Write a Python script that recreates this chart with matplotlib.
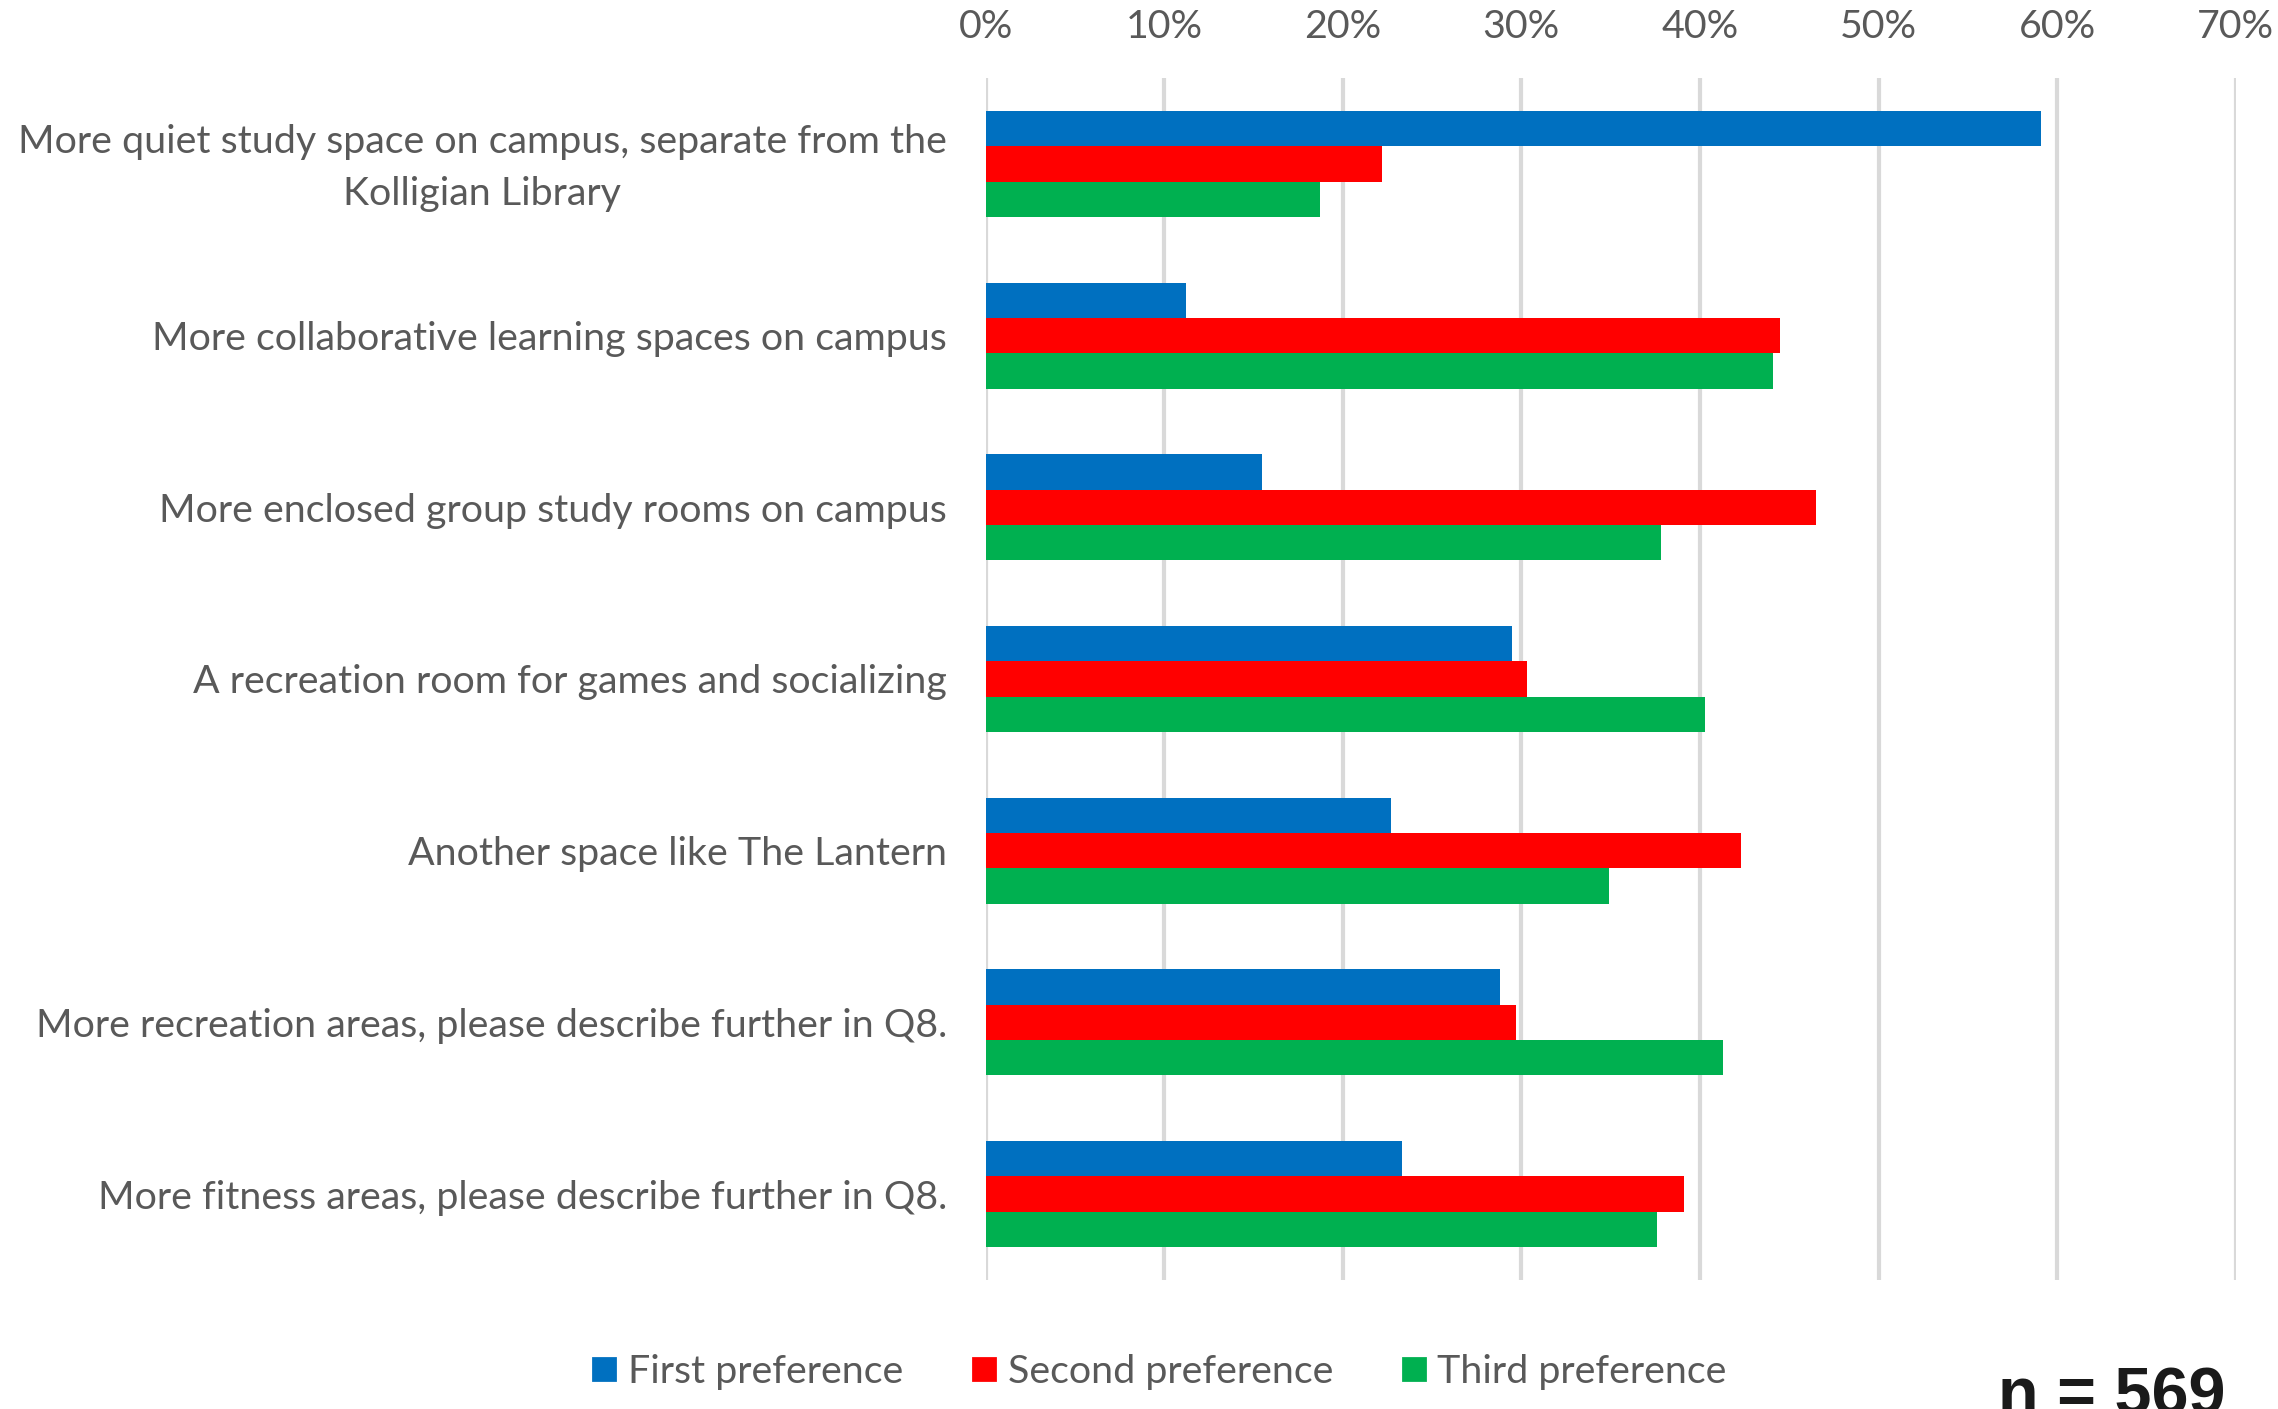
import matplotlib
matplotlib.use("Agg")
import matplotlib.pyplot as plt
from matplotlib.lines import Line2D
from matplotlib.transforms import ScaledTranslation
import numpy as np

categories = [
    "More quiet study space on campus, separate from the\nKolligian Library",
    "More collaborative learning spaces on campus",
    "More enclosed group study rooms on campus",
    "A recreation room for games and socializing",
    "Another space like The Lantern",
    "More recreation areas, please describe further in Q8.",
    "More fitness areas, please describe further in Q8.",
]
series_names = ["First preference", "Second preference", "Third preference"]
first_pref = [59.1, 11.2, 15.5, 29.5, 22.7, 28.8, 23.3]
second_pref = [22.2, 44.5, 46.5, 30.3, 42.3, 29.7, 39.1]
third_pref = [18.7, 44.1, 37.8, 40.3, 34.9, 41.3, 37.6]
x_ticks = [0, 10, 20, 30, 40, 50, 60, 70]
x_tick_labels = ["0%", "10%", "20%", "30%", "40%", "50%", "60%", "70%"]
note = "n = 569"

colors = ["#0070C0", "#FF0000", "#00B050"]
text_color = "#595959"
font = "Lato"
fs = 14.2

DPI = 200
fig = plt.figure(figsize=(2278 / DPI, 1409 / DPI), dpi=DPI)
ax = fig.add_axes([0.4327, 0.0916, 0.9814 - 0.4327, 0.9446 - 0.0916])

y = np.arange(len(categories))
h = 0.206
for i, (vals, col) in enumerate(zip([first_pref, second_pref, third_pref], colors)):
    ax.barh(y + (i - 1) * h, vals, height=h, color=col, zorder=3, label=series_names[i])

ax.set_ylim(len(categories) - 0.5, -0.5)
ax.set_xlim(0, 70)
ax.xaxis.tick_top()
ax.set_xticks(x_ticks)
ax.set_xticklabels(x_tick_labels, fontsize=fs, color=text_color, family=font)
ax.set_yticks(y)
ax.set_yticklabels(categories, fontsize=fs, color=text_color, family=font,
                   multialignment="center", linespacing=1.55)
ax.tick_params(axis="both", length=0)
ax.tick_params(axis="x", pad=12)
ax.tick_params(axis="y", pad=14)
for s in ax.spines.values():
    s.set_visible(False)
ax.grid(axis="x", color="#D9D9D9", linewidth=1.5, zorder=0)
ax.set_axisbelow(True)

# nudge the two-line label slightly upward, as in the reference
for lab in ax.get_yticklabels():
    if "\n" in lab.get_text():
        lab.set_transform(lab.get_transform() + ScaledTranslation(0, 0.035, fig.dpi_scale_trans))

handles = [Line2D([], [], linestyle="none", marker="s", markersize=8.0,
                  markerfacecolor=c, markeredgecolor=c) for c in colors]
leg = fig.legend(handles, series_names, loc="center", bbox_to_anchor=(0.509, 0.0265),
                 ncol=3, frameon=False, handlelength=0.6, handletextpad=0.3,
                 columnspacing=1.75, prop={"family": font, "size": fs})
for t in leg.get_texts():
    t.set_color(text_color)

fig.text(0.977, -0.004, note, ha="right", va="baseline", fontsize=24,
         fontweight="bold", family="Liberation Sans", color="#1a1a1a")

fig.savefig("out.png", dpi=DPI)
